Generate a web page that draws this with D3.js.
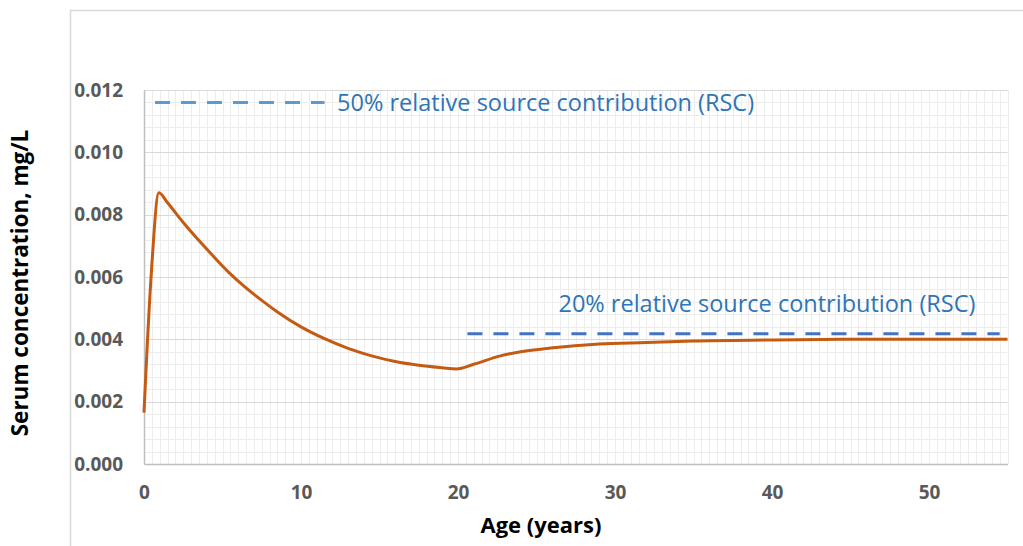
<!DOCTYPE html>
<html><head><meta charset="utf-8">
<script src="https://cdn.jsdelivr.net/npm/d3@7"></script>
<style>
html,body{margin:0;padding:0;background:#fff;}
svg{display:block;font-family:"Open Sans",sans-serif;}
</style></head>
<body>
<svg id="c" width="1023" height="546"></svg>
<script>
// Data
const ages = [0,0.45,0.95,1.5,2.5,3.3,4.3,5.4,6.5,7.5,8.5,10,11.5,13,14.5,16,17.5,19,19.9,21,22.7,24,25.9,29,32,35,40,45,50,55];
const serum = [0.00165,0.0060,0.0087,0.00838,0.00775,0.00728,0.00673,0.00615,0.00565,0.00525,0.00488,0.00440,0.00402,0.00371,0.00347,0.00329,0.00317,0.00309,0.00305,0.0032,0.00347,0.0036,0.00372,0.00385,0.0039,0.00395,0.00398,0.0040,0.0040,0.0040];
const xTicks = [0,10,20,30,40,50];
const yTicks = [0,0.002,0.004,0.006,0.008,0.010,0.012];
const rscLabels = ["50% relative source contribution (RSC)","20% relative source contribution (RSC)"];
const rscX0 = [0.7,20.6];
const rscX1 = [11.5,54.5];
const rscY = [0.0116,0.00418];
const rscLabelX = [12.3,26.4];
const rscLabelY = [0.0116,0.00515];

const svg = d3.select("#c");
const L=144,R=1007.5,T=90,B=464;
const x = d3.scaleLinear().domain([0,55]).range([L,R]);
const y = d3.scaleLinear().domain([0,0.012]).range([B,T]);

// outer frame
svg.append("path").attr("d","M70.5,546 V10.5 H1023").attr("fill","none").attr("stroke","#d9d9d9").attr("stroke-width",1.5);

// minor grid
const g = svg.append("g");
g.selectAll(".vm").data(d3.range(0.5,55.01,0.5)).join("line")
 .attr("x1",d=>Math.round(x(d))+0.5).attr("x2",d=>Math.round(x(d))+0.5).attr("y1",T).attr("y2",B)
 .attr("stroke","#ededed").attr("stroke-width",1);
g.selectAll(".hm").data(d3.range(0.0004,0.01201,0.0004)).join("line")
 .attr("y1",d=>Math.round(y(d))+0.5).attr("y2",d=>Math.round(y(d))+0.5).attr("x1",L).attr("x2",R)
 .attr("stroke","#ededed").attr("stroke-width",1);
// major horizontal
g.selectAll(".hM").data(yTicks.slice(1)).join("line")
 .attr("y1",d=>Math.round(y(d))+0.5).attr("y2",d=>Math.round(y(d))+0.5).attr("x1",L).attr("x2",R)
 .attr("stroke","#d9d9d9").attr("stroke-width",1);

// axes
const xa = svg.append("g").attr("transform",`translate(0,${B})`)
 .call(d3.axisBottom(x).tickValues(xTicks).tickSize(0).tickPadding(22).tickFormat(d3.format("d")));
const ya = svg.append("g").attr("transform",`translate(${L},0)`)
 .call(d3.axisLeft(y).tickValues(yTicks).tickSize(0).tickPadding(21).tickFormat(d3.format(".3f")));
[xa,ya].forEach(a=>{
  a.select(".domain").attr("stroke","#bfbfbf").attr("stroke-width",1.5);
  a.selectAll("text").attr("fill","#595959").attr("font-size",19).attr("font-weight","bold").attr("font-family","'Open Sans',sans-serif");
});

// line
svg.append("path").datum(ages.map((a,i)=>[a,serum[i]]))
 .attr("d",d3.line().x(d=>x(d[0])).y(d=>y(d[1])).curve(d3.curveMonotoneX))
 .attr("fill","none").attr("stroke","#c55a11").attr("stroke-width",3);

// RSC dashed lines
const cols=["#5b9bd5","#4472c4"];
const tcols=["#2e75b6","#2e75b6"];
rscLabels.forEach((lab,i)=>{
  svg.append("line").attr("x1",x(rscX0[i])).attr("x2",x(rscX1[i])).attr("y1",y(rscY[i])).attr("y2",y(rscY[i]))
   .attr("stroke",cols[i]).attr("stroke-width",3).attr("stroke-dasharray","15,11");
  svg.append("text").attr("x",x(rscLabelX[i])).attr("y",y(rscLabelY[i])).attr("dy","0.35em")
   .attr("fill",tcols[i]).attr("font-size",23.5).text(lab);
});

// axis titles
svg.append("text").attr("x",541).attr("y",533).attr("text-anchor","middle")
 .attr("font-size",22).attr("font-weight","bold").attr("fill","#000").text("Age (years)");
svg.append("text").attr("transform","translate(28,283) rotate(-90)").attr("text-anchor","middle")
 .attr("font-size",22.5).attr("font-weight","bold").attr("fill","#000").text("Serum concentration, mg/L");
</script>
</body></html>
